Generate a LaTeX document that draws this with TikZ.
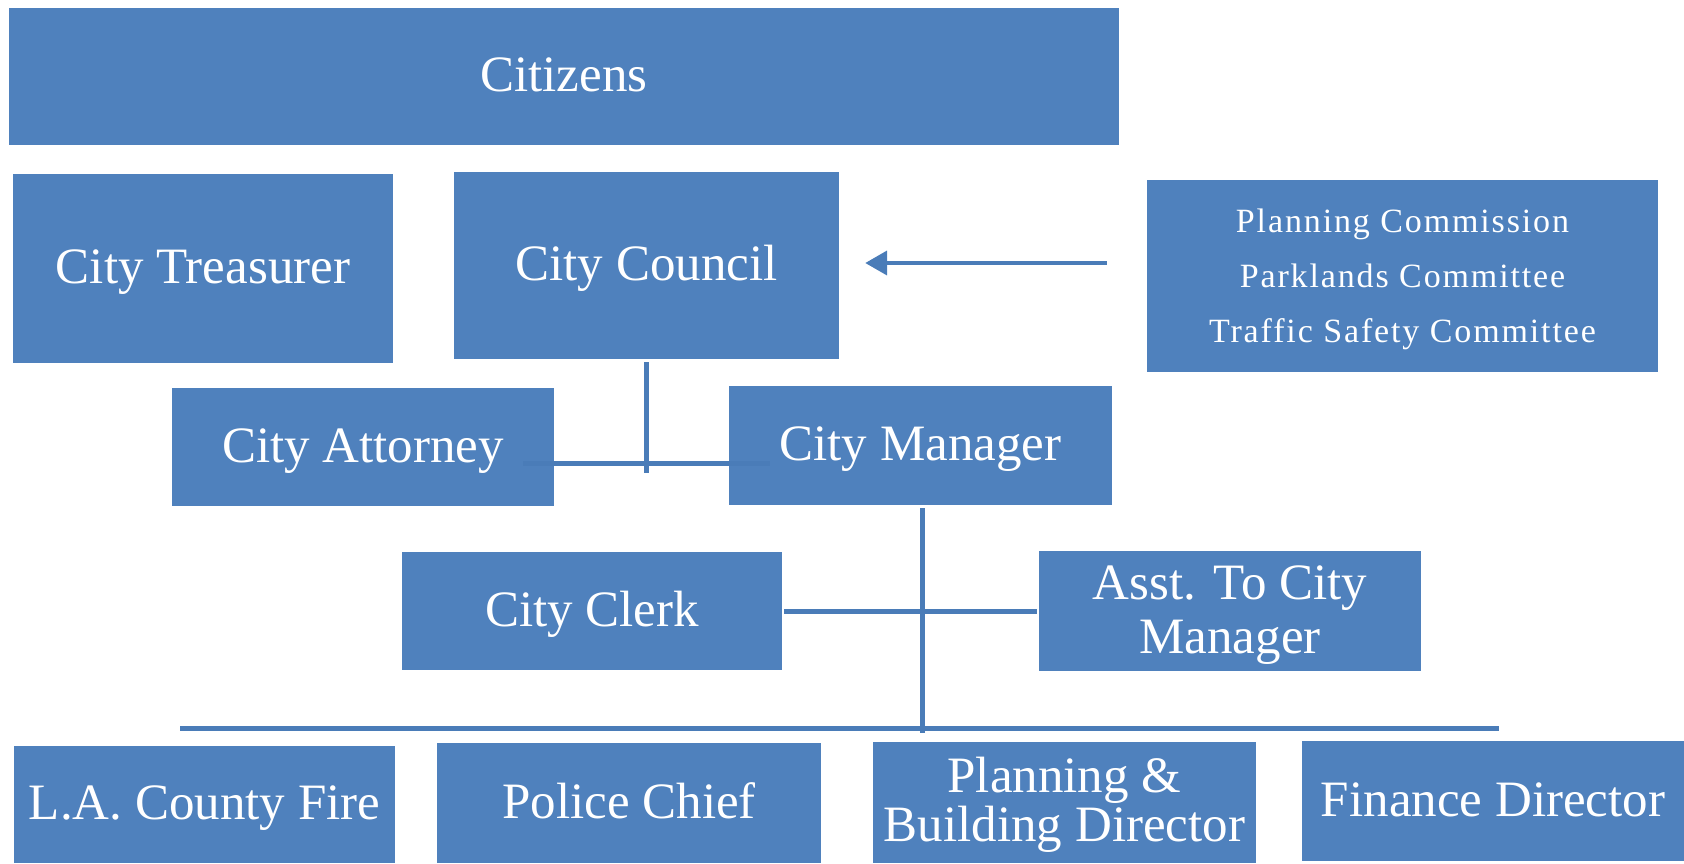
\documentclass[tikz,border=0pt]{standalone}
\usepackage{fontspec}
\setmainfont{Liberation Serif}
\usetikzlibrary{arrows}
\definecolor{orgblue}{HTML}{4F81BD}
\definecolor{orgdark}{HTML}{4A7CB8}
\tikzset{%
  orgbox/.style={rectangle, fill=orgblue, text=white, inner sep=0pt, align=center,
    text height=17.3pt, text depth=2.3pt, font=\fontsize{25.5}{27}\selectfont},
  orgline/.style={draw=orgdark, line width=2.5pt},
  myedge/.style={->, draw=orgdark, line width=2pt, >=triangle 60}
}

\begin{document}
\begin{tikzpicture}[x=0.5pt, y=-0.5pt]
  \useasboundingbox (0,0) rectangle (1684,863);
  % top rows
  \node[orgbox, minimum width=555pt, minimum height=68.5pt] (citizens) at (564,76.5) {Citizens};
  \node[orgbox, minimum width=190pt, minimum height=94.5pt] (treas) at (203,268.5) {City Treasurer};
  \node[orgbox, minimum width=192.5pt, minimum height=93.5pt] (council) at (646.5,265.5) {City Council};
  \node[orgbox, minimum width=255.5pt, minimum height=96pt, text height=68pt, text depth=2pt,
    font=\addfontfeatures{LetterSpace=5.5}\fontsize{17}{27.5}\selectfont] (cmte) at (1402.5,276)
    {Planning Commission\\Parklands Committee\\Traffic Safety Committee};
  \node[orgbox, minimum width=191pt, minimum height=59pt] (attorney) at (363,447) {City Attorney};
  \node[orgbox, minimum width=191.5pt, minimum height=59.5pt] (manager) at (920.5,445.5) {City Manager};
  \node[orgbox, minimum width=190pt, minimum height=59pt] (clerk) at (592,611) {City Clerk};
  \node[orgbox, minimum width=191pt, minimum height=60pt, text height=44.3pt] (asst) at (1230,611)
    {Asst. To City\\Manager};
  % departments
  \node[orgbox, minimum width=190.5pt, minimum height=58.5pt] (fire) at (204.5,804.5) {L.A. County Fire};
  \node[orgbox, minimum width=192pt, minimum height=60pt] (police) at (629,803) {Police Chief};
  \node[orgbox, minimum width=191.5pt, minimum height=60.5pt, text height=41.8pt, text depth=3.3pt,
    font=\fontsize{25.5}{24.5}\selectfont] (plan) at (1064.5,802.5) {Planning \&\\Building Director};
  \node[orgbox, minimum width=191pt, minimum height=60pt] (finance) at (1493,801) {Finance Director};
  % connectors
  \coordinate (arrowy) at (0,263);
  \draw[myedge, shorten <=20pt, shorten >=13pt] (cmte.west |- arrowy) -- (council.east |- arrowy);
  \coordinate (tL) at (523,463);
  \coordinate (tR) at (770,463);
  \draw[orgline] ([yshift=-1.5pt]council.south) -- ++(0,111);
  \draw[orgline] (tL) -- (tR);
  \coordinate (barL) at (180,728);
  \coordinate (barR) at (1499,728);
  \draw[orgline] ([xshift=0.75pt,yshift=-1.5pt]manager.south) -- ++(0,225);
  \draw[orgline, shorten <=1pt, shorten >=1pt] (clerk.east) -- (asst.west);
  \draw[orgline] (barL) -- (barR);
\end{tikzpicture}
\end{document}
